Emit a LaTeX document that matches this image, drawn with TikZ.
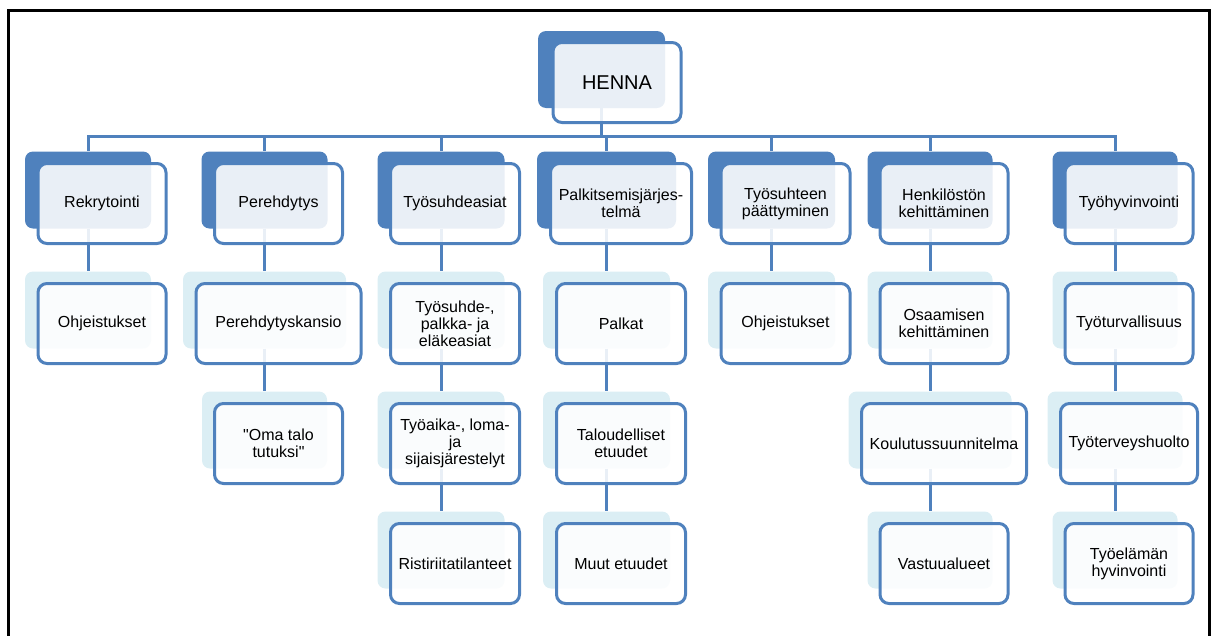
\documentclass[tikz,border=0pt]{standalone}
\usepackage{fontspec}
\setmainfont{Liberation Sans}
\usetikzlibrary{backgrounds}
\definecolor{hblue}{HTML}{4F81BD}
\definecolor{hlight}{HTML}{DBEEF4}
\tikzset{
  topback/.style={fill=hblue, rounded corners=8pt, minimum height=77pt, inner sep=0pt},
  subback/.style={fill=hlight, rounded corners=8pt, minimum height=77pt, inner sep=0pt},
  frontbox/.style={draw=hblue, line width=3pt, fill=white, fill opacity=0.88, text opacity=1,
    rounded corners=9pt, minimum height=80pt, inner sep=2pt, align=center,
    font=\fontsize{16}{17}\selectfont},
  link/.style={draw=hblue, line width=3pt}
}
\begin{document}
\begin{tikzpicture}[x=1pt, y=-1pt]
\useasboundingbox (0,0) rectangle (1213,635);
\draw[line width=3pt] (8,640) -- (8,10) -- (1209,10) -- (1209,640);
% top
\node[topback, minimum width=127pt] (henna-b) at (601.5,69.5) {};
\node[frontbox, minimum width=128pt, font=\fontsize{20}{22}\selectfont] (henna) at (617,82.5) {HENNA};
% level 1
\node[topback, minimum width=126pt] (rek-b) at (88,190) {};
\node[frontbox, minimum width=128pt] (rek) at (102,203.5) {Rekrytointi};
\node[topback, minimum width=126pt] (pere-b) at (264.5,190) {};
\node[frontbox, minimum width=128pt] (pere) at (278.5,203.5) {Perehdytys};
\node[topback, minimum width=127pt] (tsa-b) at (441,190) {};
\node[frontbox, minimum width=129pt] (tsa) at (455,203.5) {Työsuhdeasiat};
\node[topback, minimum width=139pt] (palk-b) at (606.5,190) {};
\node[frontbox, minimum width=141pt] (palk) at (621,203.5) {Palkitsemisjärjes-\\telmä};
\node[topback, minimum width=127pt] (paat-b) at (771.5,190) {};
\node[frontbox, minimum width=129pt] (paat) at (785.5,203.5) {Työsuhteen\\päättyminen};
\node[topback, minimum width=125pt] (hkeh-b) at (930,190) {};
\node[frontbox, minimum width=128pt] (hkeh) at (944,203.5) {Henkilöstön\\kehittäminen};
\node[topback, minimum width=125pt] (thv-b) at (1115,190) {};
\node[frontbox, minimum width=128pt] (thv) at (1129,203.5) {Työhyvinvointi};
% level 2
\node[subback, minimum width=126pt] (ohj1-b) at (88,310) {};
\node[frontbox, minimum width=128pt] (ohj1) at (102,323.5) {Ohjeistukset};
\node[subback, minimum width=163pt] (kansio-b) at (264.5,310) {};
\node[frontbox, minimum width=165pt] (kansio) at (278.5,323.5) {Perehdytyskansio};
\node[subback, minimum width=127pt] (tpe-b) at (441,310) {};
\node[frontbox, minimum width=129pt] (tpe) at (455,323.5) {Työsuhde-,\\palkka- ja\\eläkeasiat};
\node[subback, minimum width=127pt] (palkat-b) at (606.5,310) {};
\node[frontbox, minimum width=129pt] (palkat) at (621,323.5) {Palkat};
\node[subback, minimum width=127pt] (ohj2-b) at (771.5,310) {};
\node[frontbox, minimum width=129pt] (ohj2) at (785.5,323.5) {Ohjeistukset};
\node[subback, minimum width=125pt] (osaa-b) at (930,310) {};
\node[frontbox, minimum width=128pt] (osaa) at (944,323.5) {Osaamisen\\kehittäminen};
\node[subback, minimum width=125pt] (turva-b) at (1115,310) {};
\node[frontbox, minimum width=128pt] (turva) at (1129,323.5) {Työturvallisuus};
% level 3
\node[subback, minimum width=125pt] (oma-b) at (264.5,430) {};
\node[frontbox, minimum width=128pt] (oma) at (278.5,443.5) {\textquotedbl Oma talo\\tutuksi\textquotedbl};
\node[subback, minimum width=127pt] (aika-b) at (441,430) {};
\node[frontbox, minimum width=129pt] (aika) at (455,443.5) {Työaika-, loma-\\ja\\sijaisjärestelyt};
\node[subback, minimum width=127pt] (talo-b) at (606.5,430) {};
\node[frontbox, minimum width=129pt] (talo) at (621,443.5) {Taloudelliset\\etuudet};
\node[subback, minimum width=163pt] (koul-b) at (930,430) {};
\node[frontbox, minimum width=165pt] (koul) at (944,443.5) {Koulutussuunnitelma};
\node[subback, minimum width=135pt] (terv-b) at (1115,430) {};
\node[frontbox, minimum width=137pt] (terv) at (1129,443.5) {Työterveyshuolto};
% level 4
\node[subback, minimum width=127pt] (rist-b) at (441,550) {};
\node[frontbox, minimum width=129pt] (rist) at (455,563.5) {Ristiriitatilanteet};
\node[subback, minimum width=127pt] (muut-b) at (606.5,550) {};
\node[frontbox, minimum width=129pt] (muut) at (621,563.5) {Muut etuudet};
\node[subback, minimum width=125pt] (vast-b) at (930,550) {};
\node[frontbox, minimum width=128pt] (vast) at (944,563.5) {Vastuualueet};
\node[subback, minimum width=125pt] (elama-b) at (1115,550) {};
\node[frontbox, minimum width=128pt] (elama) at (1129,563.5) {Työelämän\\hyvinvointi};
% connectors
\begin{pgfonlayer}{background}
\draw[link] (henna-b.south) -- ++(0,28) coordinate (bus);
\foreach \n in {rek,pere,tsa,palk,paat,hkeh,thv}
  \draw[link] (bus) -| (\n-b.north);
\draw[link] (rek-b) -- (ohj1-b);
\draw[link] (pere-b) -- (kansio-b) -- (oma-b);
\draw[link] (tsa-b) -- (tpe-b) -- (aika-b) -- (rist-b);
\draw[link] (palk-b) -- (palkat-b) -- (talo-b) -- (muut-b);
\draw[link] (paat-b) -- (ohj2-b);
\draw[link] (hkeh-b) -- (osaa-b) -- (koul-b) -- (vast-b);
\draw[link] (thv-b) -- (turva-b) -- (terv-b) -- (elama-b);
\end{pgfonlayer}
\end{tikzpicture}
\end{document}
